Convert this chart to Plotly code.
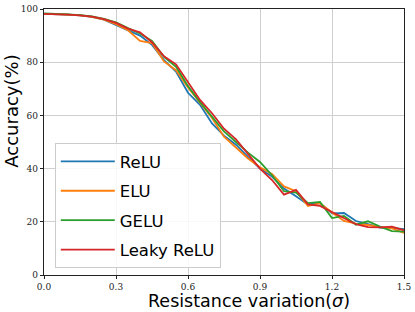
import plotly.graph_objects as go

sigma = [round(i * 0.05, 2) for i in range(31)]

relu = [98.2, 98.1, 97.9, 97.6, 97.0, 96.0, 94.0, 91.8, 90.0, 86.5, 80.8,
        76.5, 68.5, 64.0, 57.0, 52.4, 49.0, 44.4, 40.0, 37.0, 32.5,
        29.6, 26.5, 27.0, 23.2, 23.3, 20.3, 19.1, 17.8, 17.7, 17.2]
elu = [98.2, 98.1, 97.9, 97.6, 97.0, 96.0, 94.3, 92.0, 88.0, 87.2, 80.3,
       77.0, 70.5, 64.8, 59.0, 52.0, 47.8, 43.8, 40.5, 38.0, 33.3,
       31.5, 25.9, 27.0, 23.5, 20.3, 19.3, 18.8, 18.0, 17.5, 15.8]
gelu = [98.3, 98.2, 98.0, 97.7, 97.2, 96.3, 95.0, 92.8, 90.8, 88.0, 82.0,
        78.3, 71.0, 65.0, 59.5, 54.0, 50.0, 46.0, 42.5, 37.5, 31.5,
        31.0, 27.0, 27.5, 21.4, 22.2, 18.9, 20.2, 18.2, 16.5, 16.3]
leaky = [98.2, 98.1, 97.9, 97.6, 97.1, 96.2, 94.8, 92.6, 91.2, 87.5, 82.2,
         79.2, 72.5, 65.8, 60.8, 55.0, 51.0, 45.5, 40.0, 35.7, 30.2,
         32.0, 26.5, 26.0, 23.8, 21.6, 19.1, 18.0, 17.9, 18.2, 16.8]

names = ["ReLU", "ELU", "GELU", "Leaky ReLU"]
colors = ["#1f77b4", "#ff7f0e", "#2ca02c", "#d62728"]
series = [relu, elu, gelu, leaky]

x_ticks = [0.0, 0.3, 0.6, 0.9, 1.2, 1.5]
x_ticklabels = ["0.0", "0.3", "0.6", "0.9", "1.2", "1.5"]
y_ticks = [0, 20, 40, 60, 80, 100]

x_title = "Resistance variation(<i>σ</i>)"
y_title = "Accuracy(%)"

fig = go.Figure()
for name, col, ys in zip(names, colors, series):
    fig.add_trace(go.Scatter(x=sigma, y=ys, mode="lines", name=name,
                             legendgroup=name,
                             line=dict(color=col, width=1.8)))

axis_common = dict(
    showgrid=True, gridcolor="#cfcfcf", gridwidth=1.3,
    showline=True, linecolor="#222222", linewidth=1.4, mirror=True,
    ticks="outside", ticklen=3, tickcolor="#222222",
    tickfont=dict(family="DejaVu Serif", size=9, color="#222222"),
    ticklabeloverflow="allow",
    zeroline=False,
)

fig.update_layout(
    width=415, height=312,
    margin=dict(l=44, r=7, t=4, b=37),
    paper_bgcolor="white", plot_bgcolor="white",
    xaxis=dict(range=[0, 1.5], tickvals=x_ticks, ticktext=x_ticklabels,
               **axis_common),
    yaxis=dict(range=[0, 100], tickvals=y_ticks, **axis_common),
    legend=dict(x=0.03, y=0.496, xanchor="left", yanchor="top",
                bgcolor="rgba(255,255,255,0.85)", bordercolor="#cccccc",
                borderwidth=1,
                font=dict(family="DejaVu Sans", size=16.5, color="black"),
                tracegroupgap=5, itemwidth=54),
    annotations=[
        dict(text=x_title, xref="paper", yref="paper", x=0.569, y=0,
             xanchor="center", yanchor="bottom", yshift=-37, borderpad=0,
             showarrow=False,
             font=dict(family="DejaVu Sans", size=17.5, color="black")),
        dict(text=y_title, xref="paper", yref="paper", x=0, y=0.614,
             xanchor="center", yanchor="middle", xshift=-32, textangle=-90,
             borderpad=0, showarrow=False,
             font=dict(family="DejaVu Sans", size=18, color="black")),
    ],
)

fig.write_html("out.html", config={"displayModeBar": False},
               post_script="document.body.style.margin='0';")
